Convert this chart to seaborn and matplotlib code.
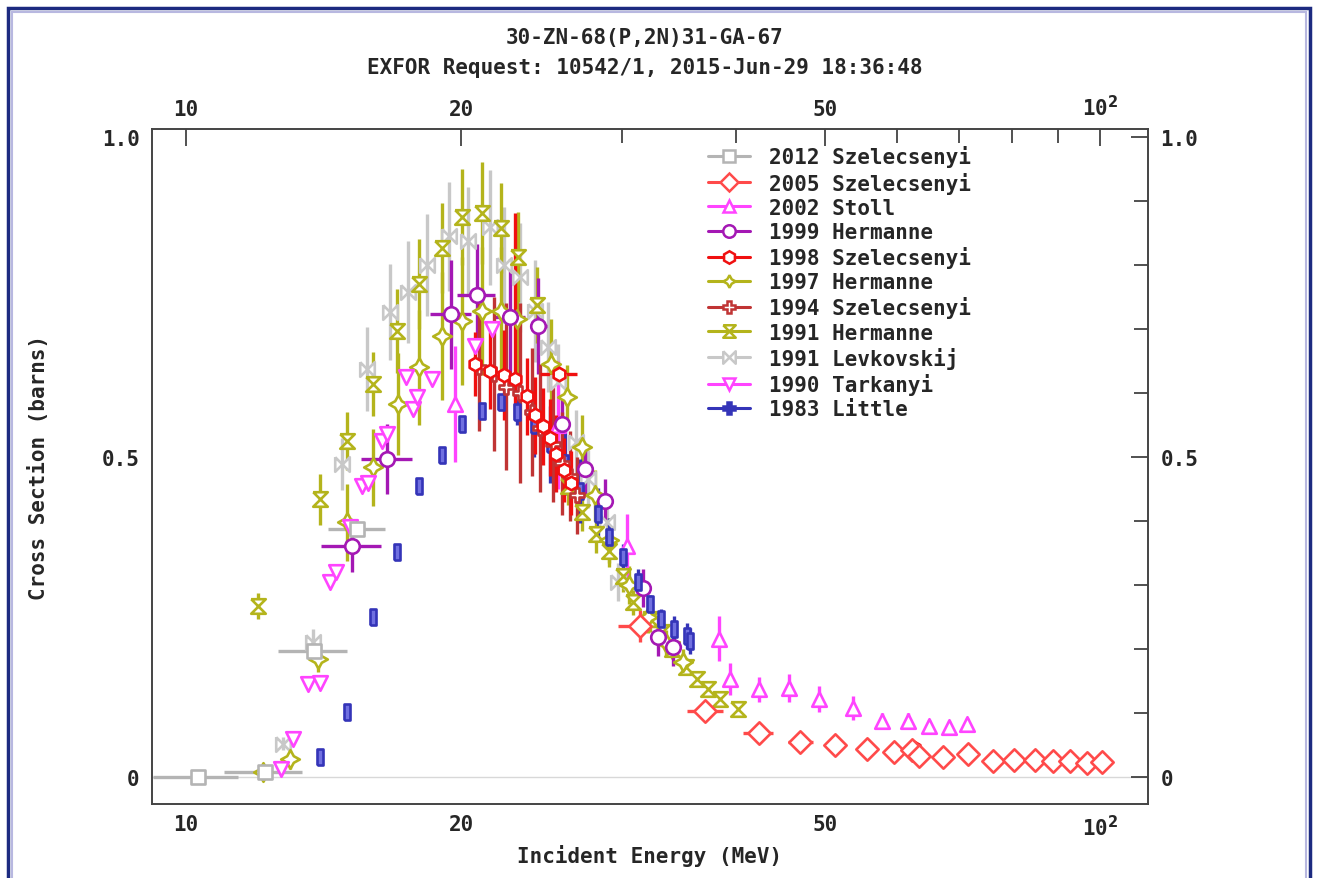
"""
EXFOR plot: 68Zn(p,2n)67Ga cross sections
"""
import numpy as np
import matplotlib
matplotlib.use("Agg")
import matplotlib.pyplot as plt
import seaborn as sns
from matplotlib.path import Path
from matplotlib.lines import Line2D
from matplotlib.patches import Rectangle
from matplotlib.ticker import FixedLocator, NullFormatter

# --- data (energy MeV, cross section barns, errors) ---
SZ12_E = [10.3, 12.2, 13.8, 15.4]
SZ12_XS = [0.0, 0.008, 0.197, 0.388]
SZ12_DE = [1.1, 1.2, 1.2, 1.1]
SZ12_DXS = [0.0, 0.0, 0.01, 0.01]

SZ05_E = [31.4, 37.0, 42.3, 47.0, 51.3, 55.6, 59.5, 62.3, 63.4, 67.3, 71.7,
          76.4, 80.5, 84.9, 88.8, 92.7, 96.8, 100.5]
SZ05_XS = [0.236, 0.103, 0.069, 0.055, 0.050, 0.044, 0.039, 0.042, 0.033,
           0.031, 0.036, 0.025, 0.027, 0.027, 0.025, 0.025, 0.022, 0.023]
SZ05_DE = [1.7, 1.7, 1.6, 1.5, 1.0, 0.8, 0.8, 0.8, 0.8, 0.8, 1.5, 1.2, 1.0,
           1.0, 0.8, 0.8, 0.8, 0.8]
SZ05_DXS = [0.025, 0.008, 0.006, 0.005, 0.005, 0.004, 0.004, 0.004, 0.004,
            0.004, 0.004, 0.003, 0.003, 0.003, 0.003, 0.003, 0.003, 0.003]

ST02_E = [19.7, 25.5, 30.4, 38.3, 39.4, 42.3, 45.7, 49.3, 53.6, 57.7, 61.7,
          65.0, 68.4, 71.5]
ST02_XS = [0.583, 0.55, 0.361, 0.216, 0.153, 0.137, 0.139, 0.122, 0.108,
           0.088, 0.088, 0.080, 0.078, 0.083]
ST02_DXS = [0.09, 0.1, 0.05, 0.035, 0.025, 0.02, 0.022, 0.02, 0.018, 0.012,
            0.012, 0.01, 0.01, 0.01]

HE99_E = [15.2, 16.6, 19.5, 20.8, 22.6, 24.3, 25.8, 27.3, 28.7, 31.6, 32.8, 34.1]
HE99_XS = [0.361, 0.497, 0.723, 0.753, 0.719, 0.705, 0.552, 0.481, 0.431,
           0.295, 0.219, 0.203]
HE99_DE = [1.15, 1.05, 1.0, 1.0, 0.9, 0.5, 0.4, 0.4, 0.4, 0.4, 0.4, 0.4]
HE99_DXS = [0.04, 0.055, 0.085, 0.08, 0.09, 0.075, 0.04, 0.04, 0.035, 0.03,
            0.03, 0.03]

SZ98_E = [20.7, 21.5, 22.3, 22.9, 23.6, 24.1, 24.6, 25.0, 25.6, 25.4, 25.9,
          26.4, 62.5]
SZ98_XS = [0.645, 0.635, 0.628, 0.622, 0.595, 0.565, 0.548, 0.53, 0.63,
           0.505, 0.48, 0.46, 0.045]
SZ98_DE = [0.15, 0.15, 0.15, 0.15, 0.15, 0.15, 0.15, 0.15, 1.2, 0.15, 0.15,
           0.15, 0.5]
SZ98_DXS_LO = [0.05, 0.06, 0.07, 0.06, 0.06, 0.06, 0.06, 0.06, 0.0, 0.06,
               0.05, 0.05, 0.004]
SZ98_DXS_HI = [0.05, 0.06, 0.07, 0.26, 0.06, 0.06, 0.06, 0.06, 0.0, 0.06,
               0.05, 0.05, 0.004]

HE97_E = [12.14, 13.0, 13.95, 15.0, 16.0, 17.06, 18.0, 19.06, 20.04, 21.1,
          22.1, 23.0, 25.1, 26.1, 27.1, 28.0, 29.0, 30.5, 32.0, 33.5, 35.0]
HE97_XS = [0.008, 0.028, 0.184, 0.398, 0.484, 0.583, 0.64, 0.689, 0.7125,
           0.728, 0.728, 0.716, 0.645, 0.594, 0.516, 0.44, 0.37, 0.30, 0.25,
           0.21, 0.18]
HE97_DXS = [0.01, 0.015, 0.02, 0.06, 0.06, 0.08, 0.09, 0.1, 0.1, 0.1, 0.1,
            0.1, 0.07, 0.05, 0.05, 0.04, 0.035, 0.03, 0.025, 0.02, 0.02]

SZ94_E = [20.9, 21.7, 22.4, 23.2, 23.9, 24.4, 25.2, 25.8, 26.3, 26.8]
SZ94_XS = [0.64, 0.63, 0.61, 0.60, 0.57, 0.545, 0.52, 0.49, 0.47, 0.44]
SZ94_DXS = [0.1, 0.12, 0.13, 0.14, 0.1, 0.1, 0.09, 0.08, 0.07, 0.06]

HE91_E = [12.0, 14.0, 15.0, 16.0, 17.0, 18.0, 19.06, 20.04, 21.1, 22.1, 23.1,
          24.2, 26.2, 27.1, 28.1, 29.0, 30.1, 30.8, 32.2, 33.2, 34.0, 35.2,
          36.2, 37.2, 38.4, 40.2]
HE91_XS = [0.267, 0.434, 0.525, 0.614, 0.697, 0.770, 0.827, 0.875, 0.881,
           0.858, 0.8125, 0.7375, 0.455, 0.414, 0.38, 0.353, 0.314, 0.273,
           0.247, 0.227, 0.20, 0.172, 0.153, 0.1375, 0.122, 0.106]
HE91_DXS = [0.02, 0.04, 0.045, 0.05, 0.065, 0.07, 0.07, 0.075, 0.08, 0.07,
            0.07, 0.06, 0.03, 0.03, 0.03, 0.025, 0.025, 0.02, 0.02, 0.015,
            0.015, 0.01, 0.01, 0.01, 0.01, 0.01]

LE91_E = [12.77, 13.77, 14.8, 15.78, 16.72, 17.5, 18.35, 19.4, 20.35, 21.5,
          22.3, 23.2, 24.1, 24.9, 25.5, 26.7, 27.5, 28.9, 29.7]
LE91_XS = [0.052, 0.211, 0.489, 0.6375, 0.727, 0.758, 0.80, 0.845, 0.8375,
           0.859, 0.80, 0.781, 0.728, 0.672, 0.617, 0.523, 0.466, 0.398, 0.305]
LE91_DXS = [0.01, 0.02, 0.04, 0.065, 0.075, 0.08, 0.08, 0.085, 0.085, 0.09,
            0.09, 0.085, 0.08, 0.07, 0.06, 0.05, 0.045, 0.04, 0.03]

TA90_E = [12.7, 13.1, 13.6, 14.0, 14.37, 14.6, 15.1, 15.58, 15.8, 16.4, 16.6,
          17.4, 17.7, 17.9, 18.6, 20.7, 21.6]
TA90_XS = [0.0125, 0.059, 0.145, 0.147, 0.305, 0.32, 0.39, 0.455, 0.46,
           0.525, 0.536, 0.625, 0.575, 0.594, 0.622, 0.673, 0.70]

LI83_E = [14.02, 15.0, 16.0, 17.0, 18.0, 19.06, 20.04, 21.1, 22.1, 23.0, 24.0,
          25.0, 26.0, 27.0, 28.2, 29.0, 30.1, 31.2, 32.2, 33.1, 34.2, 35.3, 35.6]
LI83_XS = [0.031, 0.1016, 0.25, 0.352, 0.455, 0.503, 0.552, 0.572, 0.586,
           0.570, 0.55, 0.52, 0.49, 0.447, 0.411, 0.375, 0.344, 0.305, 0.27,
           0.247, 0.231, 0.22, 0.2125]
LI83_DXS = [0.006, 0.006, 0.006, 0.006, 0.006, 0.006, 0.008, 0.01, 0.01, 0.02,
            0.05, 0.06, 0.05, 0.05, 0.04, 0.03, 0.02, 0.02, 0.015, 0.015, 0.02,
            0.02, 0.02]

# marker shapes
HOURGLASS = Path([(-1, 1), (1, 1), (-1, -1), (1, -1), (-1, 1)])
BOWTIE = Path([(-1, 1), (-1, -1), (1, 1), (1, -1), (-1, 1)])
TALLRECT = Path([(-0.4, -1), (0.4, -1), (0.4, 1), (-0.4, 1), (-0.4, -1)])
STAR4 = (4, 1, 0)

C_GRAY = "#b4b4b4"
C_LGRAY = "#c8c8c8"
C_SALMON = "#ff4a4a"
C_MAGENTA = "#ff44ff"
C_PURPLE = "#a418b4"
C_RED = "#f01010"
C_OLIVE = "#b4b41c"
C_DARKRED = "#c03434"
C_BLUE = "#3434b8"

sns.set_theme(style="white")
plt.rcParams["font.family"] = ["DejaVu Sans Mono", "DejaVu Sans"]
plt.rcParams["font.weight"] = "bold"

fig = plt.figure(figsize=(13.2, 8.79), dpi=100)
ax = fig.add_axes([152 / 1320, 1 - 805 / 879, 996 / 1320, 675 / 879])


def draw(E, XS, color, marker, size, xerr=None, yerr=None, face="white", z=3):
    ax.errorbar(E, XS, xerr=xerr, yerr=yerr, fmt="none", ecolor=color,
                elinewidth=2.4, capsize=0, zorder=z - 1)
    sns.scatterplot(x=E, y=XS, marker=marker, s=size, color=face,
                    edgecolor=color, linewidth=1.9, ax=ax, zorder=z, legend=False)


ax.axhline(0, color="#d8d8d8", lw=1.0, zorder=0)

draw(LE91_E, LE91_XS, C_LGRAY, BOWTIE, 110, yerr=LE91_DXS)
draw(HE91_E, HE91_XS, C_OLIVE, HOURGLASS, 110, yerr=HE91_DXS)
draw(HE97_E, HE97_XS, C_OLIVE, STAR4, 180, yerr=HE97_DXS)
draw(TA90_E, TA90_XS, C_MAGENTA, "v", 110)
draw(ST02_E, ST02_XS, C_MAGENTA, "^", 110, yerr=ST02_DXS)
draw(HE99_E, HE99_XS, C_PURPLE, "o", 110, xerr=HE99_DE, yerr=HE99_DXS)
draw(SZ12_E, SZ12_XS, C_GRAY, "s", 95, xerr=SZ12_DE, yerr=SZ12_DXS)
draw(LI83_E, LI83_XS, C_BLUE, TALLRECT, 130, yerr=LI83_DXS, face="#7070e0")
draw(SZ94_E, SZ94_XS, C_DARKRED, "P", 110, yerr=SZ94_DXS)
draw(SZ98_E, SZ98_XS, C_RED, "h", 95, xerr=SZ98_DE,
     yerr=[SZ98_DXS_LO, SZ98_DXS_HI])
draw(SZ05_E, SZ05_XS, C_SALMON, "D", 130, xerr=SZ05_DE, yerr=SZ05_DXS)

# axes
ax.set_xscale("log")
ax.set_xlim(9.18, 112.8)
ax.set_ylim(-0.042, 1.0125)
ax.xaxis.set_major_locator(FixedLocator([10, 20, 50, 100]))
ax.xaxis.set_minor_locator(FixedLocator([30, 40, 60, 70, 80, 90]))
ax.set_xticklabels(["10", "20", "50", "10$^2$"])
ax.xaxis.set_minor_formatter(NullFormatter())
ax.yaxis.set_major_locator(FixedLocator([0, 0.5, 1.0]))
ax.yaxis.set_minor_locator(FixedLocator([0.1, 0.2, 0.3, 0.4, 0.6, 0.7, 0.8, 0.9]))
ax.set_yticklabels(["0", "0.5", "1.0"])

ax.tick_params(which="both", direction="in", top=True, right=True,
               labeltop=True, labelright=True, color="#333333", width=1.2)
ax.tick_params(which="major", length=12, labelsize=15)
ax.tick_params(which="minor", length=10)
ax.tick_params(axis="x", which="major", pad=7)
ax.tick_params(axis="y", which="major", pad=9)
for sp in ax.spines.values():
    sp.set_color("#444444")
    sp.set_linewidth(1.4)

ax.set_xlabel("Incident Energy (MeV)", fontsize=15, fontweight="bold", labelpad=4)
ax.set_ylabel("Cross Section (barns)", fontsize=15, fontweight="bold", labelpad=38)

fig.text(645 / 1320, 1 - 38 / 879, "30-ZN-68(P,2N)31-GA-67", ha="center",
         va="center", fontsize=15, fontweight="bold")
fig.text(645 / 1320, 1 - 68 / 879, "EXFOR Request: 10542/1, 2015-Jun-29 18:36:48",
         ha="center", va="center", fontsize=15, fontweight="bold")

# legend
entries = [
    ("2012 Szelecsenyi", C_GRAY, "s", "white"),
    ("2005 Szelecsenyi", C_SALMON, "D", "white"),
    ("2002 Stoll", C_MAGENTA, "^", "white"),
    ("1999 Hermanne", C_PURPLE, "o", "white"),
    ("1998 Szelecsenyi", C_RED, "h", "white"),
    ("1997 Hermanne", C_OLIVE, STAR4, "white"),
    ("1994 Szelecsenyi", C_DARKRED, "P", "white"),
    ("1991 Hermanne", C_OLIVE, HOURGLASS, "white"),
    ("1991 Levkovskij", C_LGRAY, BOWTIE, "white"),
    ("1990 Tarkanyi", C_MAGENTA, "v", "white"),
    ("1983 Little", C_BLUE, "P", C_BLUE),
]
handles = [Line2D([0], [0], color=c, marker=m, mfc=f, mec=c, mew=1.8, ms=9,
                  lw=2.2, label=lab) for lab, c, m, f in entries]
fig.legend(handles=handles, loc="upper left",
           bbox_to_anchor=(698 / 1320, 1 - 136 / 879), frameon=False,
           fontsize=15, handlelength=2.0, handletextpad=0.9,
           labelspacing=0.2, borderpad=0)

# screenshot frame
fig.patches.append(Rectangle((8 / 1320, -0.05), 1302 / 1320, 1.05 - 9 / 879,
                             transform=fig.transFigure, fill=False,
                             edgecolor="#1c2a80", lw=2.5))
fig.patches.append(Rectangle((12 / 1320, -0.05), 1294 / 1320, 1.05 - 13 / 879,
                             transform=fig.transFigure, fill=False,
                             edgecolor="#b8b8e0", lw=1.5))

fig.savefig("out.png", dpi=100, facecolor="white")
